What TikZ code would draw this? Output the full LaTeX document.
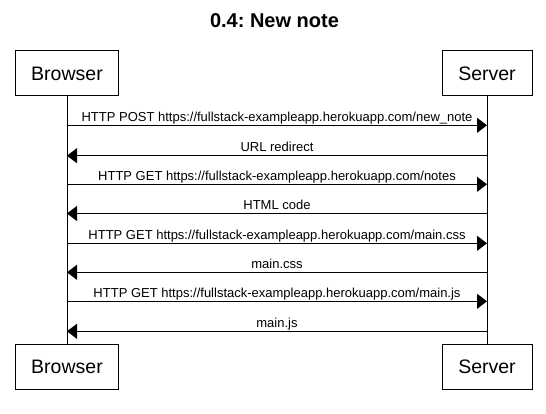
\documentclass[tikz,border=0pt]{standalone}
\usepackage{fontspec}
\setmainfont{Liberation Sans}
\usetikzlibrary{positioning,arrows.meta}
\frenchspacing

\begin{document}
\begin{tikzpicture}[x=1pt, y=-1pt,
  actor/.style={draw, line width=1pt, minimum height=45pt, inner sep=0pt, font=\fontsize{19.5}{22}\selectfont},
  msg/.style={line width=1pt, -{Triangle[length=10pt,width=15pt]}},
  lbl/.style={anchor=base, inner sep=0pt, font=\fontsize{13}{15}\selectfont}]
\useasboundingbox (0,0) rectangle (546,414);

\node[font=\bfseries\fontsize{20}{24}\selectfont] (title) at (274.5,21) {0.4: New note};

\node[actor, minimum width=102.6pt] (browser_top) at (67,73.5) {Browser};
\node[actor, minimum width=90pt] (server_top) at (487,73.5) {Server};
\node[actor, minimum width=102.6pt] (browser_bot) at (67,366.5) {Browser};
\node[actor, minimum width=90pt] (server_bot) at (487,366.5) {Server};

% lifelines
\draw[line width=1pt] (browser_top) -- (browser_bot);
\draw[line width=1pt] (server_top) -- (server_bot);

% messages
\coordinate (b1) at (67,125.3);  \coordinate (s1) at (487,125.3);
\coordinate (b2) at (67,155.7);  \coordinate (s2) at (487,155.7);
\coordinate (b3) at (67,184.3);  \coordinate (s3) at (487,184.3);
\coordinate (b4) at (67,213.5);  \coordinate (s4) at (487,213.5);
\coordinate (b5) at (67,243.3);  \coordinate (s5) at (487,243.3);
\coordinate (b6) at (67,272.3);  \coordinate (s6) at (487,272.3);
\coordinate (b7) at (67,301.3);  \coordinate (s7) at (487,301.3);
\coordinate (b8) at (67,331.3);  \coordinate (s8) at (487,331.3);

\draw[msg] (b1) -- (s1) node[lbl, midway, yshift=4pt] {HTTP POST https://fullstack-exampleapp.herokuapp.com/new\_note};
\draw[msg] (s2) -- (b2) node[lbl, midway, yshift=4pt] {URL redirect};
\draw[msg] (b3) -- (s3) node[lbl, midway, yshift=4pt] {HTTP GET https://fullstack-exampleapp.herokuapp.com/notes};
\draw[msg] (s4) -- (b4) node[lbl, midway, yshift=4pt] {HTML code};
\draw[msg] (b5) -- (s5) node[lbl, midway, yshift=4pt] {HTTP GET https://fullstack-exampleapp.herokuapp.com/main.css};
\draw[msg] (s6) -- (b6) node[lbl, midway, yshift=4pt] {main.css};
\draw[msg] (b7) -- (s7) node[lbl, midway, yshift=4pt] {HTTP GET https://fullstack-exampleapp.herokuapp.com/main.js};
\draw[msg] (s8) -- (b8) node[lbl, midway, yshift=4pt] {main.js};

\end{tikzpicture}
\end{document}
